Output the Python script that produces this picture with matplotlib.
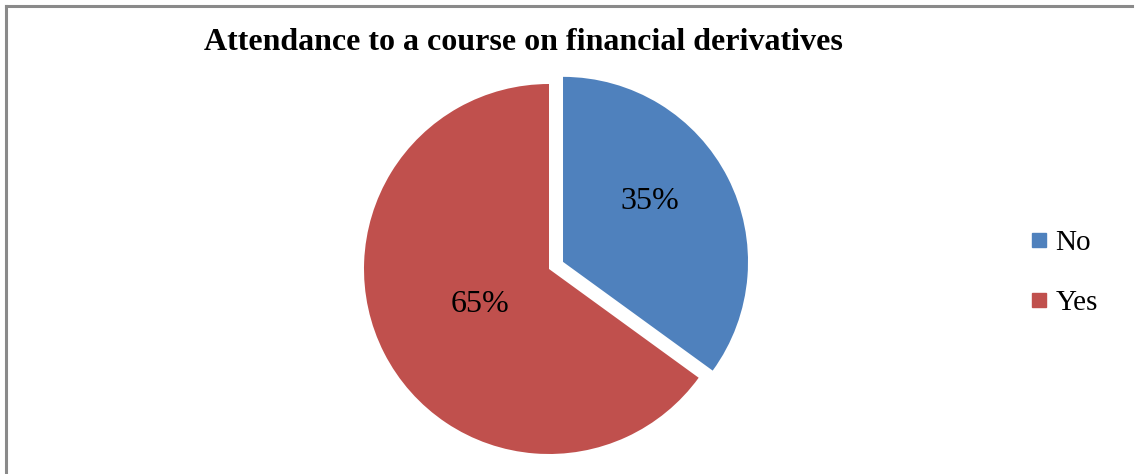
import numpy as np
import matplotlib
matplotlib.use("Agg")
import matplotlib.pyplot as plt
from matplotlib.lines import Line2D

plt.rcParams['font.family'] = ['Liberation Serif', 'DejaVu Serif']

categories = ['No', 'Yes']
shares = [35, 65]
colors = ['#4F81BD', '#C0504D']
title = 'Attendance to a course on financial derivatives'

W, H = 1138, 474
fig = plt.figure(figsize=(W / 100, H / 100), dpi=100)

# pie placed by pixel centre and radius
R = 185
cx, cy = 549, H - 269
span = 1.25
ax = fig.add_axes([(cx - span * R) / W, (cy - span * R) / H,
                   2 * span * R / W, 2 * span * R / H])
wedges, _, autotexts = ax.pie(shares, colors=colors, startangle=90,
                              counterclock=False, explode=[0.085, 0],
                              autopct='%1.0f%%', pctdistance=0.5,
                              wedgeprops=dict(linewidth=0),
                              textprops=dict(fontsize=23, color='black'))
ax.set_xlim(-span, span)
ax.set_ylim(-span, span)
ax.set_aspect('equal')
ax.axis('off')

# nudge percentage labels along each wedge
label_r = [0.57, 0.42]
label_turn = [8, 0]
for w, t, r, turn in zip(wedges, autotexts, label_r, label_turn):
    mid = np.deg2rad((w.theta1 + w.theta2) / 2 + turn)
    ox, oy = w.center
    t.set_position((ox + r * np.cos(mid), oy + r * np.sin(mid)))

fig.text(523 / W, 1 - 43 / H, title, ha='center', va='center',
         fontsize=23, fontweight='bold')

handles = [Line2D([], [], linestyle='none', marker='s', markersize=9.5,
                  markerfacecolor=c, markeredgecolor=c) for c in colors]
fig.legend(handles, categories, loc='center left',
           bbox_to_anchor=(1013 / W, 1 - 273 / H), frameon=False,
           fontsize=21, handlelength=0.8, handletextpad=0.15,
           labelspacing=1.15, borderpad=0)

# grey frame on the top and left edges
fig.add_artist(Line2D([6 / W, 6 / W], [0, 1 - 6 / H], color='#8a8a8a', lw=2.2))
fig.add_artist(Line2D([6 / W, 1132 / W], [1 - 6 / H, 1 - 6 / H],
                      color='#8a8a8a', lw=2.2))

fig.savefig('out.png', dpi=100)
